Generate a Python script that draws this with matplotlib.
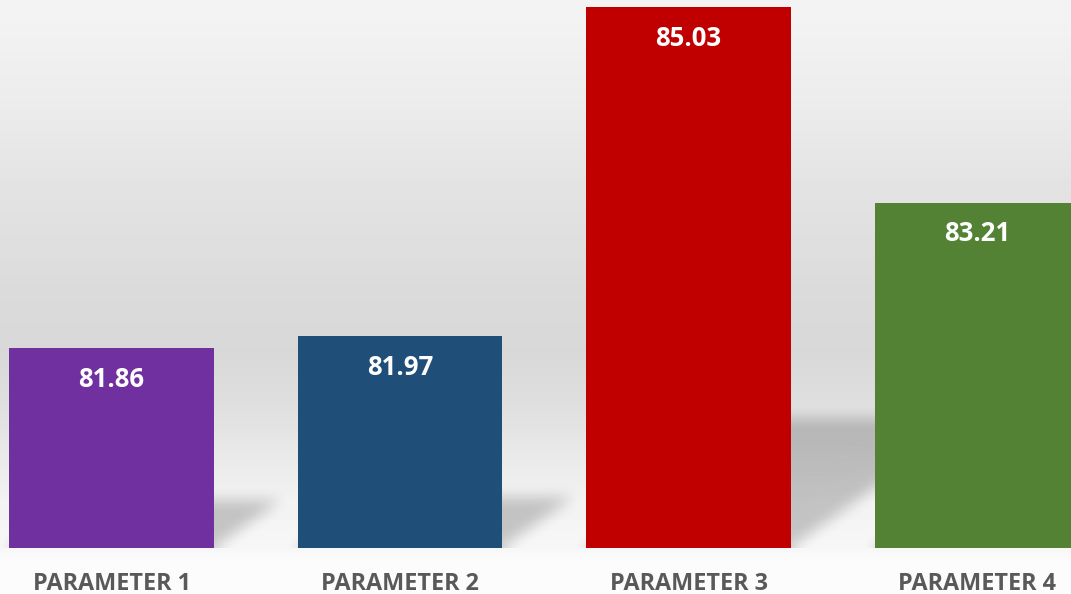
import numpy as np
import matplotlib as mpl
mpl.use('agg')
import matplotlib.pyplot as plt

# data
categories = ['PARAMETER 1', 'PARAMETER 2', 'PARAMETER 3', 'PARAMETER 4']
values = [81.86, 81.97, 85.03, 83.21]
colors = ['#7030A0', '#1F4E79', '#C00000', '#548235']

plt.rcParams['font.family'] = ['Open Sans', 'DejaVu Sans']

W, H = 1071, 594
fig = plt.figure(figsize=(W / 100, H / 100), dpi=100)

# background: vertical grey gradient, darkest a bit above the floor
bg = fig.add_axes([0, 0, 1, 1], zorder=0)
ys = np.arange(H)
gy = [0, 100, 200, 300, 350, 400, 450, 500, 548, 560, 594]
gv = [244, 236, 226, 218, 216, 222, 232, 242, 247, 251, 252]
col = np.interp(ys, gy, gv) / 255.0
grad = np.repeat(col[:, None], 10, axis=1)
bg.imshow(grad, cmap='gray', vmin=0, vmax=1, aspect='auto', extent=[0, 1, 0, 1])
bg.set_axis_off()

# main axes
base = 80.0
ax = fig.add_axes([0, 46 / H, 1, 548 / H], zorder=1)
ax.patch.set_alpha(0)
x = np.arange(len(categories))
xlim = (-111.5 / 288.5, (W - 111.5) / 288.5)
ylim = (base, base + 548 / 107.6)
ax.set_xlim(xlim)
ax.set_ylim(ylim)
width = 0.71


# soft floor shadows behind the bars
def box_blur(a, r, axis):
    c = np.cumsum(np.pad(a, [(r + 1, r) if i == axis else (0, 0) for i in range(a.ndim)], mode='edge'), axis=axis)
    n = a.shape[axis]
    hi = np.take(c, np.arange(2 * r + 1, 2 * r + 1 + n), axis=axis)
    lo = np.take(c, np.arange(0, n), axis=axis)
    return (hi - lo) / (2 * r + 1)


nx, ny = W, 548
gx = np.linspace(xlim[0], xlim[1], nx)
gyy = np.linspace(ylim[1], ylim[0], ny)
XX, YY = np.meshgrid(gx, gyy)
mask = np.zeros((ny, nx))
skew = 1.4 * 107.6 / 288.5
for xi, v in zip(x, values):
    h = v - base
    sh = 0.24 * h
    dy = YY - base
    off = dy * skew
    inside = (dy >= 0) & (dy <= sh) & (XX >= xi - width / 2 + off) & (XX <= xi + width / 2 + off)
    mask[inside] = 1.0
for _ in range(3):
    mask = box_blur(mask, 6, 0)
    mask = box_blur(mask, 6, 1)
# keep the shadow on the floor line
mask[YY < base] = 0
shadow = np.zeros((ny, nx, 4))
shadow[..., 3] = mask * 0.2
ax.imshow(shadow, extent=[xlim[0], xlim[1], ylim[0], ylim[1]], aspect='auto', zorder=1, interpolation='bilinear')

bars = ax.bar(x, np.array(values) - base, bottom=base, width=width, color=colors, zorder=2)

for xi, v in zip(x, values):
    ax.annotate(f'{v:.2f}', (xi, v), xytext=(0, -22.5), textcoords='offset points',
                ha='center', va='center', color='white', fontsize=18.5, fontweight='bold', zorder=3)

ax.set_xticks(x)
ax.set_xticklabels(categories, fontsize=16.8, fontweight='bold', color='#595959')
ax.tick_params(axis='x', length=0, pad=17)
ax.set_yticks([])
for s in ax.spines.values():
    s.set_visible(False)

fig.savefig('out.png', dpi=100)
